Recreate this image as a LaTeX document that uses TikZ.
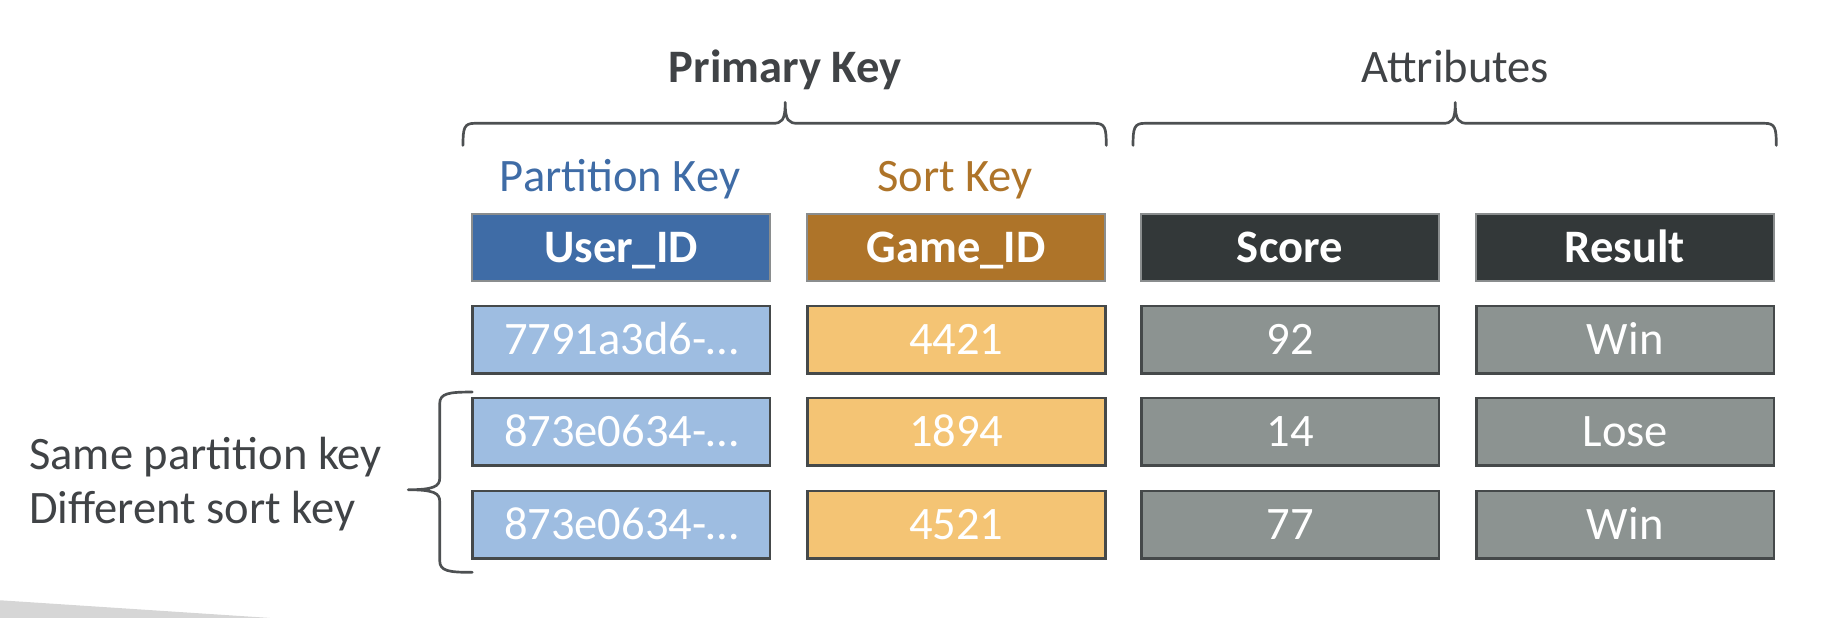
\documentclass[tikz,border=0pt]{standalone}
\usepackage{fontspec}
\setmainfont{Carlito}
\definecolor{pkblue}{HTML}{3F6CA6}
\definecolor{skbrown}{HTML}{AE7429}
\definecolor{hdark}{HTML}{333839}
\definecolor{lblue}{HTML}{9EBDE1}
\definecolor{lorange}{HTML}{F4C474}
\definecolor{cgray}{HTML}{8C9391}
\definecolor{bdark}{HTML}{45494A}
\definecolor{bhead}{HTML}{8A8D8E}
\definecolor{tgray}{HTML}{404346}
\definecolor{bracec}{HTML}{4D5052}
\definecolor{shadec}{HTML}{D6D6D6}
\begin{document}
\begin{tikzpicture}[x=1pt,y=-1pt,
  txt/.style={font=\fontsize{40}{46}\selectfont, inner sep=0pt, text height=26pt, text depth=0pt},
  cell/.style={txt, minimum width=256pt, minimum height=58pt, anchor=north west, text=white, draw=bdark, line width=2.2pt},
  hcell/.style={cell, draw=bhead, line width=1.6pt, font=\fontsize{40}{46}\selectfont\bfseries},
  ucell/.style={cell, fill=lblue},
  gcell/.style={cell, fill=lorange},
  acell/.style={cell, fill=cgray},
  bracestyle/.style={draw=bracec, line width=2.3pt, line cap=round, line join=round}
]
\useasboundingbox (0,0) rectangle (1568,531.2);
\fill[shadec] (0,516) -- (232,531.2) -- (0,531.2) -- cycle;

% titles
\node[txt, font=\fontsize{40}{46}\selectfont\bfseries, text=tgray, anchor=base] (pk) at (675,71) {Primary Key};
\node[txt, text=tgray, anchor=base] (attr) at (1251,71) {Attributes};
\node[txt, text=pkblue, anchor=base] (partk) at (533,165) {Partition Key};
\node[txt, text=skbrown, anchor=base] (sortk) at (821,165) {Sort Key};

% braces
\draw[bracestyle] (398,125) .. controls (398,110) and (399,106) .. (408,106) -- (664,106)
  .. controls (672,106) and (675,104) .. (675,88)
  .. controls (675,104) and (678,106) .. (686,106) -- (941,106)
  .. controls (950,106) and (951,110) .. (951,125);
\draw[bracestyle] (974,125) .. controls (974,110) and (975,106) .. (984,106) -- (1240,106)
  .. controls (1248,106) and (1251,104) .. (1251,88)
  .. controls (1251,104) and (1254,106) .. (1262,106) -- (1517,106)
  .. controls (1526,106) and (1527,110) .. (1527,125);

% header row
\node[hcell, fill=pkblue] (h1) at (405,183) {User\_ID};
\node[hcell, fill=skbrown] (h2) at (693,183) {Game\_ID};
\node[hcell, fill=hdark] (h3) at (980,183) {Score};
\node[hcell, fill=hdark] (h4) at (1268,183) {Result};

% row 1
\node[ucell] (u1) at (405,262) {7791a3d6-…};
\node[gcell] (g1) at (693,262) {4421};
\node[acell] (s1) at (980,262) {92};
\node[acell] (r1) at (1268,262) {Win};
% row 2
\node[ucell] (u2) at (405,341) {873e0634-…};
\node[gcell] (g2) at (693,341) {1894};
\node[acell] (s2) at (980,341) {14};
\node[acell] (r2) at (1268,341) {Lose};
% row 3
\node[ucell] (u3) at (405,421) {873e0634-…};
\node[gcell] (g3) at (693,421) {4521};
\node[acell] (s3) at (980,421) {77};
\node[acell] (r3) at (1268,421) {Win};

% left brace
\draw[bracestyle] (406,337) .. controls (386,337) and (378,338) .. (378,347) -- (378,411)
  .. controls (378,418) and (373,421) .. (351,421)
  .. controls (373,421) and (378,424) .. (378,431) -- (378,482)
  .. controls (378,491) and (386,492) .. (406,492);

\node[txt, text=tgray, anchor=base west] (same) at (25,404) {Same partition key};
\node[txt, text=tgray, anchor=base west] (diff) at (25,450) {Different sort key};
\end{tikzpicture}
\end{document}
